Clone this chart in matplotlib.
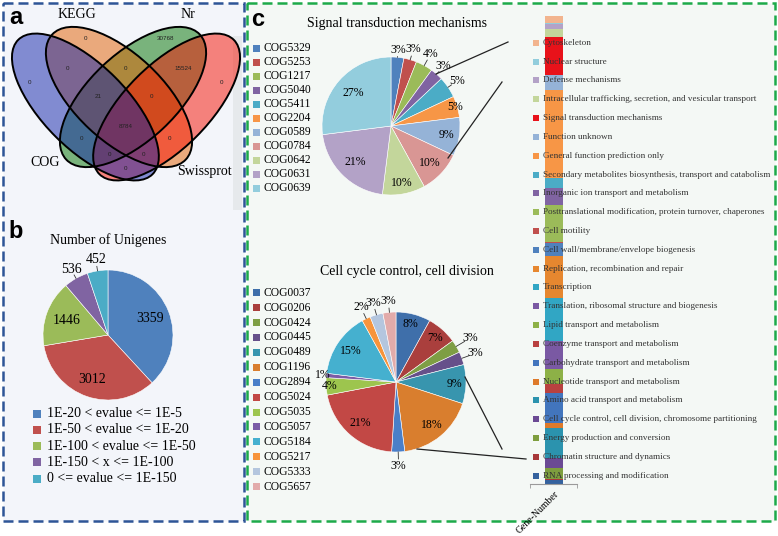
import numpy as np
import matplotlib
matplotlib.use('Agg')
import matplotlib.pyplot as plt
from matplotlib.patches import Ellipse, Rectangle

plt.rcParams['font.family'] = ['Liberation Serif', 'DejaVu Serif']
SANS = ['Liberation Sans', 'DejaVu Sans']

W, H = 778, 536

# ---------------- data ----------------
# (a) Venn diagram of annotated unigenes
venn_sets = ['COG', 'KEGG', 'Nr', 'Swissprot']
venn_regions = ['KEGG', 'Nr', 'COG', 'COG&KEGG', 'KEGG&Nr', 'Nr&Swissprot', 'Swissprot',
                'COG&KEGG&Nr', 'KEGG&Nr&Swissprot', 'all',
                'COG&Nr', 'KEGG&Swissprot', 'COG&Nr&Swissprot', 'COG&KEGG&Swissprot',
                'COG&Swissprot']
venn_counts = [0, 30768, 0, 0, 0, 15524, 0, 21, 0, 8784, 0, 0, 0, 0, 0]

# (b) e-value distribution of unigenes
evalue_bins = ['1E-20 < evalue <= 1E-5', '1E-50 < evalue <= 1E-20',
               '1E-100 < evalue <= 1E-50', '1E-150 < x <= 1E-100',
               '0 <= evalue <= 1E-150']
unigene_counts = [3359, 3012, 1446, 536, 452]

# (c) COG pies
signal_cogs = ['COG5329', 'COG5253', 'COG1217', 'COG5040', 'COG5411', 'COG2204',
               'COG0589', 'COG0784', 'COG0642', 'COG0631', 'COG0639']
signal_pct = [3, 3, 4, 3, 5, 5, 9, 10, 10, 21, 27]

cellcycle_cogs = ['COG0037', 'COG0206', 'COG0424', 'COG0445', 'COG0489', 'COG1196',
                  'COG2894', 'COG5024', 'COG5035', 'COG5057', 'COG5184', 'COG5217',
                  'COG5333', 'COG5657']
cellcycle_pct = [8, 7, 3, 3, 9, 18, 3, 21, 4, 1, 15, 2, 3, 3]

# (c) COG functional classes, stacked gene numbers (top -> bottom)
cog_classes = ['Cytoskeleton', 'Nuclear structure', 'Defense mechanisms',
               'Intracellular trafficking, secretion, and vesicular transport',
               'Signal transduction mechanisms', 'Function unknown',
               'General function prediction only',
               'Secondary metabolites biosynthesis, transport and catabolism',
               'Inorganic ion transport and metabolism',
               'Posttranslational modification, protein turnover, chaperones',
               'Cell motility', 'Cell wall/membrane/envelope biogenesis',
               'Replication, recombination and repair', 'Transcription',
               'Translation, ribosomal structure and biogenesis',
               'Lipid transport and metabolism', 'Coenzyme transport and metabolism',
               'Carbohydrate transport and metabolism',
               'Nucleotide transport and metabolism',
               'Amino acid transport and metabolism',
               'Cell cycle control, cell division, chromosome partitioning',
               'Energy production and conversion', 'Chromatin structure and dynamics',
               'RNA processing and modification']
gene_numbers = [15, 1, 11, 15, 77, 30, 176, 20, 34, 74, 2, 24, 84, 86, 56, 30, 18, 60,
                10, 60, 20, 22, 3, 6]

# ---------------- colours ----------------
venn_colors = ['#1022A9', '#E25E00', '#007200', '#F60E00']
evalue_colors = ['#4F81BD', '#C0504D', '#9BBB59', '#8064A2', '#4BACC6']
signal_colors = ['#4F81BD', '#C0504D', '#9BBB59', '#8064A2', '#4BACC6', '#F79646',
                 '#95B3D7', '#D99694', '#C3D69B', '#B3A2C7', '#93CDDD']
cellcycle_colors = ['#3F6FAA', '#AA3F3D', '#7E9E44', '#66508A', '#3895AE', '#D97E2E',
                    '#4A7FC8', '#C24845', '#9DC54E', '#7B5CA6', '#45B0CF', '#F7943B',
                    '#B4C6DE', '#E2ABAA']
class_colors = ['#F2B48E', '#92CDDC', '#B3A2C7', '#C3D69B', '#E8121A', '#95B3D7',
                '#F79646', '#4BACC6', '#8064A2', '#9BBB59', '#C0504D', '#4F81BD',
                '#E6872F', '#31A6C4', '#7A59A3', '#8DB147', '#B94140', '#4275BD',
                '#DE7A2A', '#2B93AE', '#6B4A94', '#7E9E3E', '#A8383A', '#35629E']

fig = plt.figure(figsize=(W / 100, H / 100), dpi=100)


def px_axes(x0, y0, x1, y1, z=2):
    return fig.add_axes([x0 / W, 1 - y1 / H, (x1 - x0) / W, (y1 - y0) / H], zorder=z)


# background + panel frames (pixel coordinates)
bg = px_axes(0, 0, W, H, z=0)
bg.set_xlim(0, W)
bg.set_ylim(H, 0)
bg.axis('off')
bg.add_patch(Rectangle((247, 3), 528, 518, facecolor='#F4F8F5', edgecolor='#1DAA4A',
                       lw=1.8, ls=(0, (4, 2))))
bg.add_patch(Rectangle((3, 3), 241, 518, facecolor='#F3F5FA', edgecolor='#2E5597',
                       lw=1.8, ls=(0, (4, 2))))
bg.add_patch(Rectangle((233, 36), 9, 174, facecolor='#E6E9EC', edgecolor='none'))

top = px_axes(0, 0, W, H, z=5)
top.set_xlim(0, W)
top.set_ylim(H, 0)
top.axis('off')
top.patch.set_alpha(0)

for lab, (x, y) in zip(['a', 'b', 'c'], [(16, 18), (16, 232), (258, 19)]):
    top.text(x, y, lab, fontsize=17, fontweight='bold', family=SANS,
             ha='center', va='center')

# ---------------- (a) Venn ----------------
ax_v = px_axes(0, 0, 245, 228)
ax_v.set_xlim(0, 245)
ax_v.set_ylim(228, 0)
ax_v.axis('off')
ellipse_geom = [(85.4, 107, 190, 84, 45), (119, 97, 183, 87, 43.1),
                (133, 97, 183, 87, -43.1), (166.6, 107, 190, 84, -45)]
# fill order: Nr, KEGG, Swissprot, COG (gives the blended region colours)
for i in [2, 1, 3, 0]:
    cx, cy, w, h, ang = ellipse_geom[i]
    ax_v.add_patch(Ellipse((cx, cy), w, h, angle=ang, facecolor=venn_colors[i],
                           alpha=0.5, edgecolor='none'))
for (cx, cy, w, h, ang) in ellipse_geom:
    ax_v.add_patch(Ellipse((cx, cy), w, h, angle=ang, facecolor='none',
                           edgecolor='black', lw=1.4))
venn_label_xy = [(85, 38), (166, 38), (30, 82), (68, 68), (126, 68), (183, 68),
                 (221, 82), (98, 97), (152, 97), (126, 127), (81, 139), (170, 139),
                 (109, 154), (143, 154), (125, 168)]
for (x, y), n in zip(venn_label_xy, venn_counts):
    ax_v.text(x, y, str(n), fontsize=4.5, family=SANS, ha='center', va='center',
              color='#222222')
for (x, y), name in zip([(45, 163), (77, 14), (188, 14), (204, 172)], venn_sets):
    ax_v.text(x, y, name, fontsize=10, ha='center', va='center')


# ---------------- pie helpers ----------------
def pie_axes(cx, cy, r):
    ax = px_axes(cx - r, cy - r, cx + r, cy + r)
    return ax


def draw_pie(ax, values, colors, dists, fmt, fs):
    ax.pie(values, colors=colors, startangle=90, counterclock=False,
           wedgeprops=dict(edgecolor='white', linewidth=0.4))
    ax.set_xlim(-1, 1)
    ax.set_ylim(-1, 1)
    total = float(sum(values))
    cum = 0.0
    for v, d in zip(values, dists):
        mid = np.deg2rad(90 - 360 * (cum + v / 2) / total)
        cum += v
        ax.text(d * np.cos(mid), d * np.sin(mid), fmt(v), fontsize=fs,
                ha='center', va='center')
        if d > 1.08:
            ax.plot([1.0 * np.cos(mid), (d - 0.1) * np.cos(mid)],
                    [1.0 * np.sin(mid), (d - 0.1) * np.sin(mid)],
                    color='#333333', lw=0.6, clip_on=False)


def legend_column(x_sq, x_txt, y0, dy, labels, colors, sq, fs, color='black'):
    for i, (lab, c) in enumerate(zip(labels, colors)):
        y = y0 + i * dy
        top.add_patch(Rectangle((x_sq, y - sq / 2), sq, sq, facecolor=c,
                                edgecolor='none'))
        top.text(x_txt, y, lab, fontsize=fs, ha='left', va='center', color=color)


# ---------------- (b) e-value pie ----------------
top.text(108, 240, 'Number of Unigenes', fontsize=10, ha='center', va='center')
ax_b = pie_axes(108, 335, 65)
draw_pie(ax_b, unigene_counts, evalue_colors, [0.70, 0.73, 0.67, 1.16, 1.17],
         lambda v: f'{v}', 10)
legend_column(33, 47, 413.5, 16.25, evalue_bins, evalue_colors, 8, 10)

# ---------------- (c) COG pies ----------------
top.text(397, 23, 'Signal transduction mechanisms', fontsize=10, ha='center',
         va='center')
ax_s = pie_axes(391, 126, 69)
draw_pie(ax_s, signal_pct, signal_colors,
         [1.11, 1.155, 1.19, 1.15, 1.16, 0.97, 0.82, 0.78, 0.84, 0.74, 0.73],
         lambda v: f'{v}%', 8.5)
legend_column(253, 264, 48.3, 14.0, signal_cogs, signal_colors, 7, 8.3)

top.text(407, 272, 'Cell cycle control, cell division', fontsize=10, ha='center',
         va='center')
ax_c = pie_axes(396, 382, 70)
draw_pie(ax_c, cellcycle_pct, cellcycle_colors,
         [0.85, 0.84, 1.24, 1.21, 0.84, 0.80, 1.20, 0.78, 0.95, 1.05, 0.78, 1.18,
          1.18, 1.16],
         lambda v: f'{v}%', 8.5)
legend_column(253, 264, 292.7, 14.92, cellcycle_cogs, cellcycle_colors, 7, 8.3)

# connector lines from pies to the stacked bar
for (x0, y0), (x1, y1) in [((436, 74), (508, 42)), ((448, 158), (502, 82)),
                           ((465, 377), (502, 449)), ((417, 449), (526, 459))]:
    top.plot([x0, x1], [y0, y1], color='#222222', lw=0.9)

# ---------------- (c) stacked bar of COG classes ----------------
ax_bar = px_axes(530, 15.5, 577, 483.5)
bottoms = np.cumsum([0] + gene_numbers[::-1][:-1])
for val, b, c in zip(gene_numbers[::-1], bottoms, class_colors[::-1]):
    ax_bar.bar(0.51, val, bottom=b, width=0.383, color=c, linewidth=0)
ax_bar.set_xlim(0, 1)
ax_bar.set_ylim(0, sum(gene_numbers))
ax_bar.patch.set_alpha(0)
for s in ['top', 'right', 'left']:
    ax_bar.spines[s].set_visible(False)
ax_bar.spines['bottom'].set_color('#9A9A9A')
ax_bar.spines['bottom'].set_linewidth(0.8)
ax_bar.set_yticks([])
ax_bar.set_xticks([0.51], ['Gene-Number'], rotation=45, ha='right',
                  rotation_mode='anchor', fontsize=7)
ax_bar.tick_params(axis='x', length=0, pad=4)
ax_bar.set_xticks([0.0, 1.0], minor=True)
ax_bar.tick_params(axis='x', which='minor', length=3, color='#9A9A9A')

legend_column(533, 543, 42.7, 18.83, cog_classes, class_colors, 6, 6.6, '#333333')

fig.savefig('out.png', dpi=100)
